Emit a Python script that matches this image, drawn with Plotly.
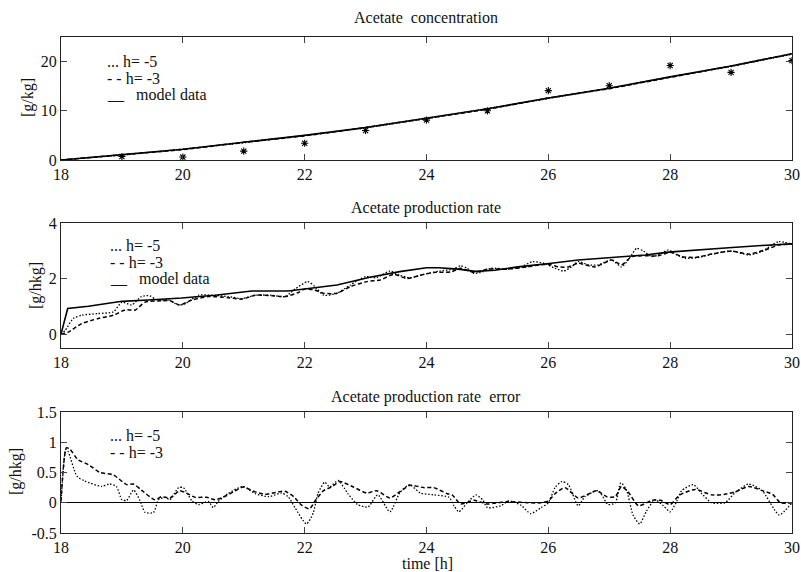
import plotly.graph_objects as go

# ---------------- data ----------------
# Panel 1: acetate concentration [g/kg]
conc_t = [18, 19, 20, 21, 22, 23, 24, 25, 26, 27, 28, 29, 30]
conc_model = [0.0, 1.1, 2.2, 3.6, 5.0, 6.6, 8.5, 10.4, 12.6, 14.6, 16.9, 19.1, 21.6]
conc_h5 = [0.0, 1.0, 2.2, 3.5, 5.0, 6.5, 8.4, 10.4, 12.5, 14.6, 16.9, 19.0, 21.5]
conc_h3 = [0.0, 1.1, 2.1, 3.6, 4.9, 6.6, 8.5, 10.3, 12.6, 14.5, 16.8, 19.1, 21.6]
meas_t = [19, 20, 21, 22, 23, 24, 25, 26, 27, 28, 29, 30]
meas_conc = [0.7, 0.6, 1.8, 3.4, 6.0, 8.1, 10.0, 14.1, 15.1, 19.2, 17.8, 20.2]

# Panel 2: acetate production rate [g/hkg]
rate_model_t = [18.0, 18.11, 18.45, 18.72, 19.0, 19.43, 19.98, 20.53, 21.13, 21.73, 22.0,
                22.53, 23.07, 23.56, 24.0, 24.2, 24.52, 24.8, 25.12, 25.5, 26.05, 26.49,
                27.04, 27.59, 27.97, 28.41, 28.96, 29.5, 30.0]
rate_model = [0.0, 0.92, 1.0, 1.1, 1.18, 1.23, 1.3, 1.4, 1.55, 1.55, 1.62,
              1.77, 2.05, 2.25, 2.39, 2.39, 2.34, 2.26, 2.3, 2.42, 2.55, 2.67,
              2.76, 2.85, 2.95, 3.03, 3.11, 3.19, 3.25]

rate_h5_t = [18.0, 18.07, 18.2, 18.34, 18.61, 18.86, 19.0, 19.16, 19.32, 19.46, 19.57,
             19.76, 19.93, 20.04, 20.26, 20.48, 20.75, 20.97, 21.19, 21.46, 21.68, 21.84,
             22.05, 22.17, 22.31, 22.53, 22.75, 23.0, 23.18, 23.4, 23.56, 23.73, 23.95,
             24.22, 24.44, 24.56, 24.67, 24.78, 24.92, 25.06, 25.33, 25.55, 25.74, 25.93,
             26.11, 26.25, 26.38, 26.49, 26.66, 26.82, 27.04, 27.2, 27.34, 27.45, 27.56,
             27.7, 27.84, 27.97, 28.11, 28.25, 28.47, 28.74, 29.01, 29.29, 29.5, 29.78, 30.0]
rate_h5 = [0.0, 0.14, 0.56, 0.68, 0.74, 0.8, 1.15, 1.05, 1.35, 1.38, 1.23,
           1.23, 1.05, 1.1, 1.4, 1.4, 1.35, 1.28, 1.4, 1.4, 1.35, 1.62,
           1.89, 1.71, 1.4, 1.47, 1.77, 2.07, 2.03, 2.27, 2.12, 2.03, 2.15,
           2.27, 2.34, 2.46, 2.37, 2.19, 2.24, 2.37, 2.34, 2.42, 2.61, 2.55,
           2.37, 2.27, 2.42, 2.61, 2.49, 2.49, 2.67, 2.42, 2.76, 3.09, 2.99,
           2.79, 2.88, 3.03, 2.85, 2.73, 2.76, 2.91, 2.99, 2.85, 2.97, 3.33, 3.24]

rate_h3_t = [18.0, 18.12, 18.34, 18.61, 18.86, 19.05, 19.22, 19.38, 19.65, 19.79, 19.95,
             20.15, 20.42, 20.75, 20.97, 21.19, 21.46, 21.68, 21.9, 22.0, 22.16, 22.31,
             22.53, 22.75, 23.02, 23.24, 23.46, 23.68, 23.9, 24.12, 24.4, 24.56, 24.78,
             25.0, 25.33, 25.66, 25.88, 26.04, 26.16, 26.33, 26.49, 26.77, 27.04, 27.2,
             27.37, 27.59, 27.81, 28.0, 28.19, 28.41, 28.68, 29.01, 29.29, 29.56, 29.78, 30.0]
rate_h3 = [0.0, 0.07, 0.38, 0.56, 0.68, 0.87, 0.87, 1.15, 1.2, 1.2, 1.05,
           1.23, 1.35, 1.31, 1.26, 1.4, 1.38, 1.35, 1.5, 1.62, 1.59, 1.47,
           1.47, 1.71, 1.89, 1.95, 2.15, 2.0, 2.12, 2.22, 2.24, 2.37, 2.22,
           2.34, 2.34, 2.42, 2.5, 2.5, 2.42, 2.42, 2.55, 2.42, 2.67, 2.49,
           2.79, 2.82, 2.82, 2.95, 2.79, 2.76, 2.88, 2.99, 2.88, 3.03, 3.21, 3.24]

# Panel 3: acetate production rate error [g/hkg]
err_h3_t = [18.0, 18.09, 18.15, 18.28, 18.45, 18.64, 18.86, 19.08, 19.19, 19.32, 19.54,
            19.65, 19.79, 19.95, 20.06, 20.2, 20.39, 20.53, 20.64, 20.83, 20.99, 21.16,
            21.35, 21.57, 21.68, 21.82, 21.95, 22.08, 22.17, 22.31, 22.44, 22.58, 22.8,
            23.02, 23.18, 23.4, 23.56, 23.73, 23.95, 24.12, 24.34, 24.42, 24.56, 24.78,
            25.0, 25.33, 25.66, 25.88, 26.0, 26.11, 26.27, 26.49, 26.63, 26.79, 26.96,
            27.1, 27.2, 27.31, 27.48, 27.7, 27.84, 28.0, 28.16, 28.41, 28.68, 28.9,
            29.07, 29.29, 29.51, 29.68, 29.81, 30.0]
err_h3 = [0.03, 0.91, 0.88, 0.71, 0.63, 0.5, 0.46, 0.3, 0.31, 0.21, 0.05,
          0.1, 0.08, 0.2, 0.16, 0.09, 0.09, 0.05, 0.08, 0.18, 0.26, 0.19,
          0.14, 0.18, 0.19, 0.1, -0.04, -0.1, 0.03, 0.2, 0.26, 0.35, 0.26,
          0.16, 0.2, 0.08, 0.18, 0.29, 0.25, 0.25, 0.15, 0.13, -0.02, 0.04,
          -0.02, 0.02, 0.0, 0.0, 0.03, 0.15, 0.25, 0.08, 0.13, 0.2, 0.1,
          0.1, 0.27, 0.18, -0.05, 0.04, 0.04, -0.03, 0.13, 0.22, 0.13, 0.14,
          0.18, 0.27, 0.2, 0.14, 0.0, 0.0]

err_h5_t = [18.0, 18.08, 18.12, 18.26, 18.39, 18.67, 18.8, 18.91, 19.0, 19.08, 19.19,
            19.3, 19.38, 19.52, 19.6, 19.71, 19.79, 19.93, 20.01, 20.15, 20.26, 20.42,
            20.5, 20.58, 20.74, 20.99, 21.19, 21.41, 21.62, 21.73, 21.84, 22.03, 22.14,
            22.22, 22.33, 22.41, 22.55, 22.71, 22.87, 23.04, 23.2, 23.4, 23.56, 23.72,
            23.9, 24.12, 24.37, 24.45, 24.53, 24.67, 24.81, 24.92, 25.0, 25.22, 25.35,
            25.55, 25.71, 25.88, 26.0, 26.11, 26.22, 26.33, 26.49, 26.6, 26.82, 26.98,
            27.1, 27.19, 27.28, 27.39, 27.5, 27.61, 27.75, 27.89, 28.0, 28.11, 28.19,
            28.38, 28.52, 28.68, 28.9, 29.07, 29.29, 29.51, 29.79, 30.0]
err_h5 = [0.0, 0.88, 0.84, 0.44, 0.36, 0.27, 0.31, 0.27, 0.05, 0.04, 0.21,
          0.03, -0.16, -0.16, 0.05, 0.09, 0.05, 0.25, 0.25, 0.03, -0.03, 0.02,
          -0.08, 0.02, 0.15, 0.27, 0.15, 0.1, 0.16, 0.1, -0.08, -0.35, -0.17,
          0.16, 0.34, 0.26, 0.37, 0.15, -0.03, -0.07, 0.13, -0.15, 0.16, 0.3,
          0.16, 0.13, 0.09, -0.05, -0.15, 0.0, 0.13, 0.05, -0.08, -0.05, 0.03,
          -0.04, -0.18, -0.08, 0.0, 0.25, 0.35, 0.3, -0.05, 0.1, 0.2, -0.03,
          0.0, 0.33, 0.22, -0.2, -0.35, -0.14, 0.05, -0.05, -0.15, 0.03, 0.2,
          0.3, 0.15, 0.0, 0.0, 0.17, 0.31, 0.2, -0.2, 0.0]

x_ticks = [18, 20, 22, 24, 26, 28, 30]
y1_ticks = [0, 10, 20]
y2_ticks = [0, 2, 4]
y3_ticks = [-0.5, 0, 0.5, 1, 1.5]
y3_ticklabels = ["-0.5", "0", "0.5", "1", "1.5"]

# ---------------- figure ----------------
W, H = 801, 572
FONT = "Liberation Serif"
FS = 16


def px_x(p):
    return p / W


def px_y(p):
    return 1 - p / H


fig = go.Figure()

dot_style = dict(color="black", width=1.3, dash="1.5px,1.8px")
dash_style = dict(color="black", width=1.5, dash="4px,2.5px")
solid_style = dict(color="black", width=1.6)

# Panel 1
fig.add_trace(go.Scatter(x=conc_t, y=conc_h5, mode="lines", line=dot_style, xaxis="x", yaxis="y"))
fig.add_trace(go.Scatter(x=conc_t, y=conc_h3, mode="lines", line=dash_style, xaxis="x", yaxis="y"))
fig.add_trace(go.Scatter(x=conc_t, y=conc_model, mode="lines", line=solid_style, xaxis="x", yaxis="y"))
fig.add_trace(go.Scatter(x=meas_t, y=meas_conc, mode="markers",
                         marker=dict(symbol="asterisk-open", size=6, color="black",
                                     line=dict(color="black", width=1.1)),
                         xaxis="x", yaxis="y"))

# Panel 2
fig.add_trace(go.Scatter(x=rate_h5_t, y=rate_h5, mode="lines", line=dict(dot_style, shape="spline", smoothing=0.6),
                         xaxis="x2", yaxis="y2"))
fig.add_trace(go.Scatter(x=rate_h3_t, y=rate_h3, mode="lines", line=dict(dash_style, shape="spline", smoothing=0.6),
                         xaxis="x2", yaxis="y2"))
fig.add_trace(go.Scatter(x=rate_model_t, y=rate_model, mode="lines", line=solid_style,
                         xaxis="x2", yaxis="y2"))

# Panel 3
fig.add_trace(go.Scatter(x=err_h5_t, y=err_h5, mode="lines", line=dict(dot_style, shape="spline", smoothing=0.6),
                         xaxis="x3", yaxis="y3"))
fig.add_trace(go.Scatter(x=err_h3_t, y=err_h3, mode="lines", line=dict(dash_style, shape="spline", smoothing=0.6),
                         xaxis="x3", yaxis="y3"))

xdom = [px_x(61), px_x(792)]
axis_common = dict(showline=True, linecolor="#222", linewidth=1, mirror="ticks",
                   ticks="inside", ticklen=6, tickcolor="#444", tickwidth=1,
                   showgrid=False, zeroline=False,
                   tickfont=dict(family=FONT, size=FS, color="#111"))

fig.update_layout(
    width=W, height=H,
    margin=dict(l=0, r=0, t=0, b=0, autoexpand=False),
    paper_bgcolor="white", plot_bgcolor="white",
    showlegend=False,
    font=dict(family=FONT, color="#111", size=FS),
    xaxis=dict(axis_common, domain=xdom, range=[18, 30], tickvals=x_ticks, anchor="y"),
    yaxis=dict(axis_common, domain=[px_y(160), px_y(37)], range=[0, 25], tickvals=y1_ticks, anchor="x"),
    xaxis2=dict(axis_common, domain=xdom, range=[18, 30], tickvals=x_ticks, anchor="y2"),
    yaxis2=dict(axis_common, domain=[px_y(348), px_y(223)], range=[-0.5, 4], tickvals=y2_ticks, anchor="x2"),
    xaxis3=dict(axis_common, domain=xdom, range=[18, 30], tickvals=x_ticks, anchor="y3"),
    yaxis3=dict(axis_common, domain=[px_y(533), px_y(412)], range=[-0.5, 1.5],
                tickvals=y3_ticks, ticktext=y3_ticklabels, anchor="x3",
                zeroline=True, zerolinecolor="black", zerolinewidth=1),
)

NB = "\u00a0"
annots = [
    # titles
    dict(text="Acetate" + NB + NB + "concentration", x=px_x(426), y=px_y(18)),
    dict(text="Acetate production rate", x=px_x(426), y=px_y(208)),
    dict(text="Acetate production rate" + NB + NB + "error", x=px_x(426), y=px_y(397)),
    dict(text="time [h]", x=px_x(427), y=px_y(563)),
]
for a in annots:
    fig.add_annotation(xref="paper", yref="paper", showarrow=False, xanchor="center", yanchor="middle",
                       font=dict(family=FONT, size=FS, color="#111"), **a)

ylabels = [("[g/kg]", 28, 98), ("[g/hkg]", 36, 286), ("[g/hkg]", 16, 472)]
for txt, xx, yy in ylabels:
    fig.add_annotation(xref="paper", yref="paper", showarrow=False, text=txt, textangle=-90,
                       x=px_x(xx), y=px_y(yy), xanchor="center", yanchor="middle",
                       font=dict(family=FONT, size=FS, color="#111"))

legend_items = [
    ("..." + NB + "h=" + NB + "-5", 105, 61),
    ("-" + NB + "-" + NB + "h=" + NB + "-3", 105, 78),
    ("__" + NB + NB + NB + "model data", 105, 94),
    ("..." + NB + "h=" + NB + "-5", 108, 245),
    ("-" + NB + "-" + NB + "h=" + NB + "-3", 108, 262),
    ("__" + NB + NB + NB + "model data", 108, 278),
    ("..." + NB + "h=" + NB + "-5", 108, 435),
    ("-" + NB + "-" + NB + "h=" + NB + "-3", 108, 452),
]
for txt, xx, yy in legend_items:
    fig.add_annotation(xref="paper", yref="paper", showarrow=False, text=txt,
                       x=px_x(xx), y=px_y(yy), xanchor="left", yanchor="middle",
                       font=dict(family=FONT, size=FS, color="#111"))

fig.write_html("out.html", post_script="document.body.style.margin='0px';",
               config={"displayModeBar": False})
